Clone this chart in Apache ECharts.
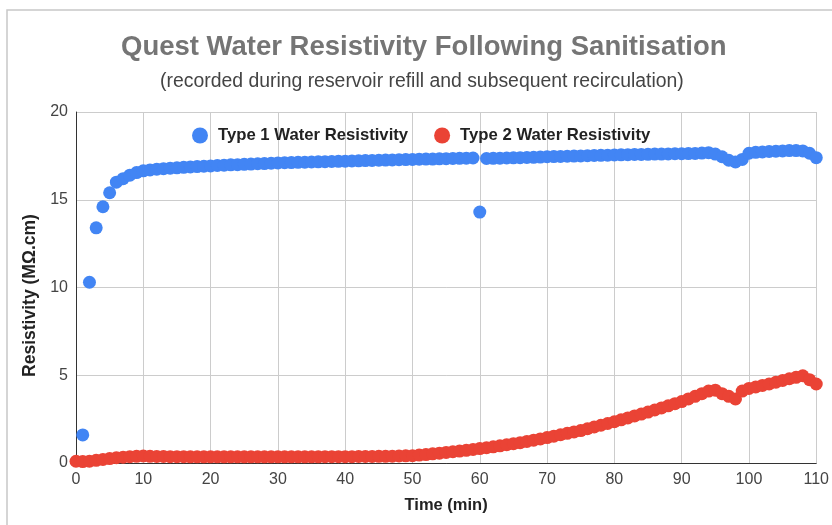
<!DOCTYPE html>
<html>
<head>
<meta charset="utf-8">
<script src="https://cdn.jsdelivr.net/npm/echarts@6/dist/echarts.min.js"></script>
<style>html,body{margin:0;padding:0;background:#fff}#c{width:832px;height:525px}</style>
</head>
<body>
<div id="c"></div>
<script>
var titleText = "Quest Water Resistivity Following Sanitisation";
var subtitleText = "(recorded during reservoir refill and subsequent recirculation)";
var seriesNames = ["Type 1 Water Resistivity", "Type 2 Water Resistivity"];
var xAxisName = "Time (min)";
var yAxisName = "Resistivity (M\u03A9.cm)";

// Type 1: minutes 1..110
var type1Minutes = [1,2,3,4,5,6,7,8,9,10,11,12,13,14,15,16,17,18,19,20,21,22,23,24,25,26,27,28,29,30,31,32,33,34,35,36,37,38,39,40,41,42,43,44,45,46,47,48,49,50,51,52,53,54,55,56,57,58,59,60,61,62,63,64,65,66,67,68,69,70,71,72,73,74,75,76,77,78,79,80,81,82,83,84,85,86,87,88,89,90,91,92,93,94,95,96,97,98,99,100,101,102,103,104,105,106,107,108,109,110];
var type1Values = [1.6,10.3,13.4,14.6,15.4,16.0,16.2,16.4,16.55,16.65,
  16.7,16.74,16.77,16.8,16.82,16.85,16.87,16.89,16.91,16.93,
  16.95,16.97,16.99,17.0,17.02,17.03,17.05,17.06,17.08,17.1,
  17.11,17.12,17.13,17.14,17.15,17.16,17.17,17.18,17.19,17.2,
  17.21,17.22,17.23,17.24,17.25,17.26,17.27,17.28,17.29,17.3,
  17.31,17.32,17.32,17.33,17.34,17.35,17.36,17.37,17.38,14.3,
  17.35,17.36,17.37,17.38,17.39,17.4,17.41,17.42,17.43,17.45,
  17.46,17.47,17.48,17.49,17.5,17.51,17.52,17.53,17.54,17.55,
  17.56,17.57,17.58,17.58,17.59,17.6,17.6,17.61,17.62,17.62,
  17.63,17.64,17.66,17.68,17.6,17.45,17.25,17.15,17.3,17.65,
  17.7,17.72,17.75,17.77,17.78,17.8,17.8,17.78,17.65,17.4];

// Type 2: minutes 0..110
var type2Minutes = [0,1,2,3,4,5,6,7,8,9,10,11,12,13,14,15,16,17,18,19,20,21,22,23,24,25,26,27,28,29,30,31,32,33,34,35,36,37,38,39,40,41,42,43,44,45,46,47,48,49,50,51,52,53,54,55,56,57,58,59,60,61,62,63,64,65,66,67,68,69,70,71,72,73,74,75,76,77,78,79,80,81,82,83,84,85,86,87,88,89,90,91,92,93,94,95,96,97,98,99,100,101,102,103,104,105,106,107,108,109,110];
var type2Values = [0.1,0.08,0.1,0.15,0.2,0.25,0.3,0.33,0.36,0.38,0.4,
  0.38,0.37,0.37,0.36,0.36,0.36,0.35,0.35,0.35,0.35,
  0.35,0.35,0.35,0.35,0.35,0.35,0.35,0.35,0.35,0.35,
  0.35,0.35,0.35,0.35,0.35,0.35,0.36,0.36,0.36,0.36,
  0.36,0.37,0.37,0.37,0.38,0.38,0.39,0.4,0.41,0.42,
  0.45,0.48,0.52,0.56,0.6,0.64,0.68,0.72,0.77,0.82,
  0.87,0.92,0.98,1.04,1.1,1.16,1.23,1.3,1.37,1.45,
  1.53,1.61,1.69,1.77,1.85,1.95,2.05,2.15,2.25,2.35,
  2.46,2.57,2.68,2.79,2.9,3.02,3.14,3.26,3.38,3.5,
  3.65,3.8,3.95,4.1,4.15,3.95,3.8,3.65,4.1,4.25,
  4.33,4.42,4.5,4.6,4.7,4.8,4.88,4.97,4.75,4.5];

function pairs(xs, ys){ var out=[]; for (var i=0;i<xs.length;i++) out.push([xs[i], ys[i]]); return out; }

var chart = echarts.init(document.getElementById('c'), null, {renderer:'canvas'});
var font = 'Arial, "Liberation Sans", sans-serif';
chart.setOption({
  backgroundColor: '#fff',
  animation: false,
  textStyle: {fontFamily: font},
  graphic: [{
    type: 'rect', shape: {x: 7, y: 10, width: 900, height: 700},
    style: {fill: 'none', stroke: '#c8c8c8', lineWidth: 1.5}, silent: true
  }],
  title: [{
    text: titleText, left: 121, top: 33, padding: 0,
    textStyle: {fontSize: 27.5, fontWeight: 'bold', color: '#757575', fontFamily: font}
  }, {
    text: subtitleText, left: 160, top: 72, padding: 0,
    textStyle: {fontSize: 19.4, fontWeight: 'normal', color: '#444', fontFamily: font}
  }],
  legend: {
    left: 192, top: 127, padding: 0, itemWidth: 16, itemHeight: 16, itemGap: 26,
    icon: 'circle',
    textStyle: {fontSize: 16.7, fontWeight: 'bold', color: '#222', fontFamily: font, padding: [0,0,0,5]},
    data: seriesNames
  },
  grid: {left: 76, right: 15, top: 112, bottom: 62, containLabel: false},
  xAxis: {
    type: 'value', min: 0, max: 110, interval: 10,
    name: xAxisName, nameLocation: 'middle', nameGap: 34,
    nameTextStyle: {fontSize: 16.5, fontWeight: 'bold', color: '#222'},
    axisLine: {show: true, onZero: false, lineStyle: {color: '#333', width: 1}},
    axisTick: {show: false},
    axisLabel: {fontSize: 16, color: '#444', margin: 9},
    splitLine: {show: true, lineStyle: {color: '#ccc', width: 1}}
  },
  yAxis: {
    type: 'value', min: 0, max: 20, interval: 5,
    name: yAxisName, nameLocation: 'middle', nameGap: 28, nameRotate: 90,
    nameTextStyle: {fontSize: 17.5, fontWeight: 'bold', color: '#222', padding: [0, 16, 0, 0]},
    axisLine: {show: true, lineStyle: {color: '#333', width: 1}},
    axisTick: {show: false},
    axisLabel: {fontSize: 16, color: '#444', margin: 8},
    splitLine: {show: true, lineStyle: {color: '#ccc', width: 1}}
  },
  series: [{
    name: seriesNames[1], type: 'scatter', symbolSize: 13,
    itemStyle: {color: '#EA4335', opacity: 1},
    data: pairs(type2Minutes, type2Values), z: 2
  }, {
    name: seriesNames[0], type: 'scatter', symbolSize: 13,
    itemStyle: {color: '#4285F4', opacity: 1},
    data: pairs(type1Minutes, type1Values), z: 3
  }]
});
</script>
</body>
</html>
